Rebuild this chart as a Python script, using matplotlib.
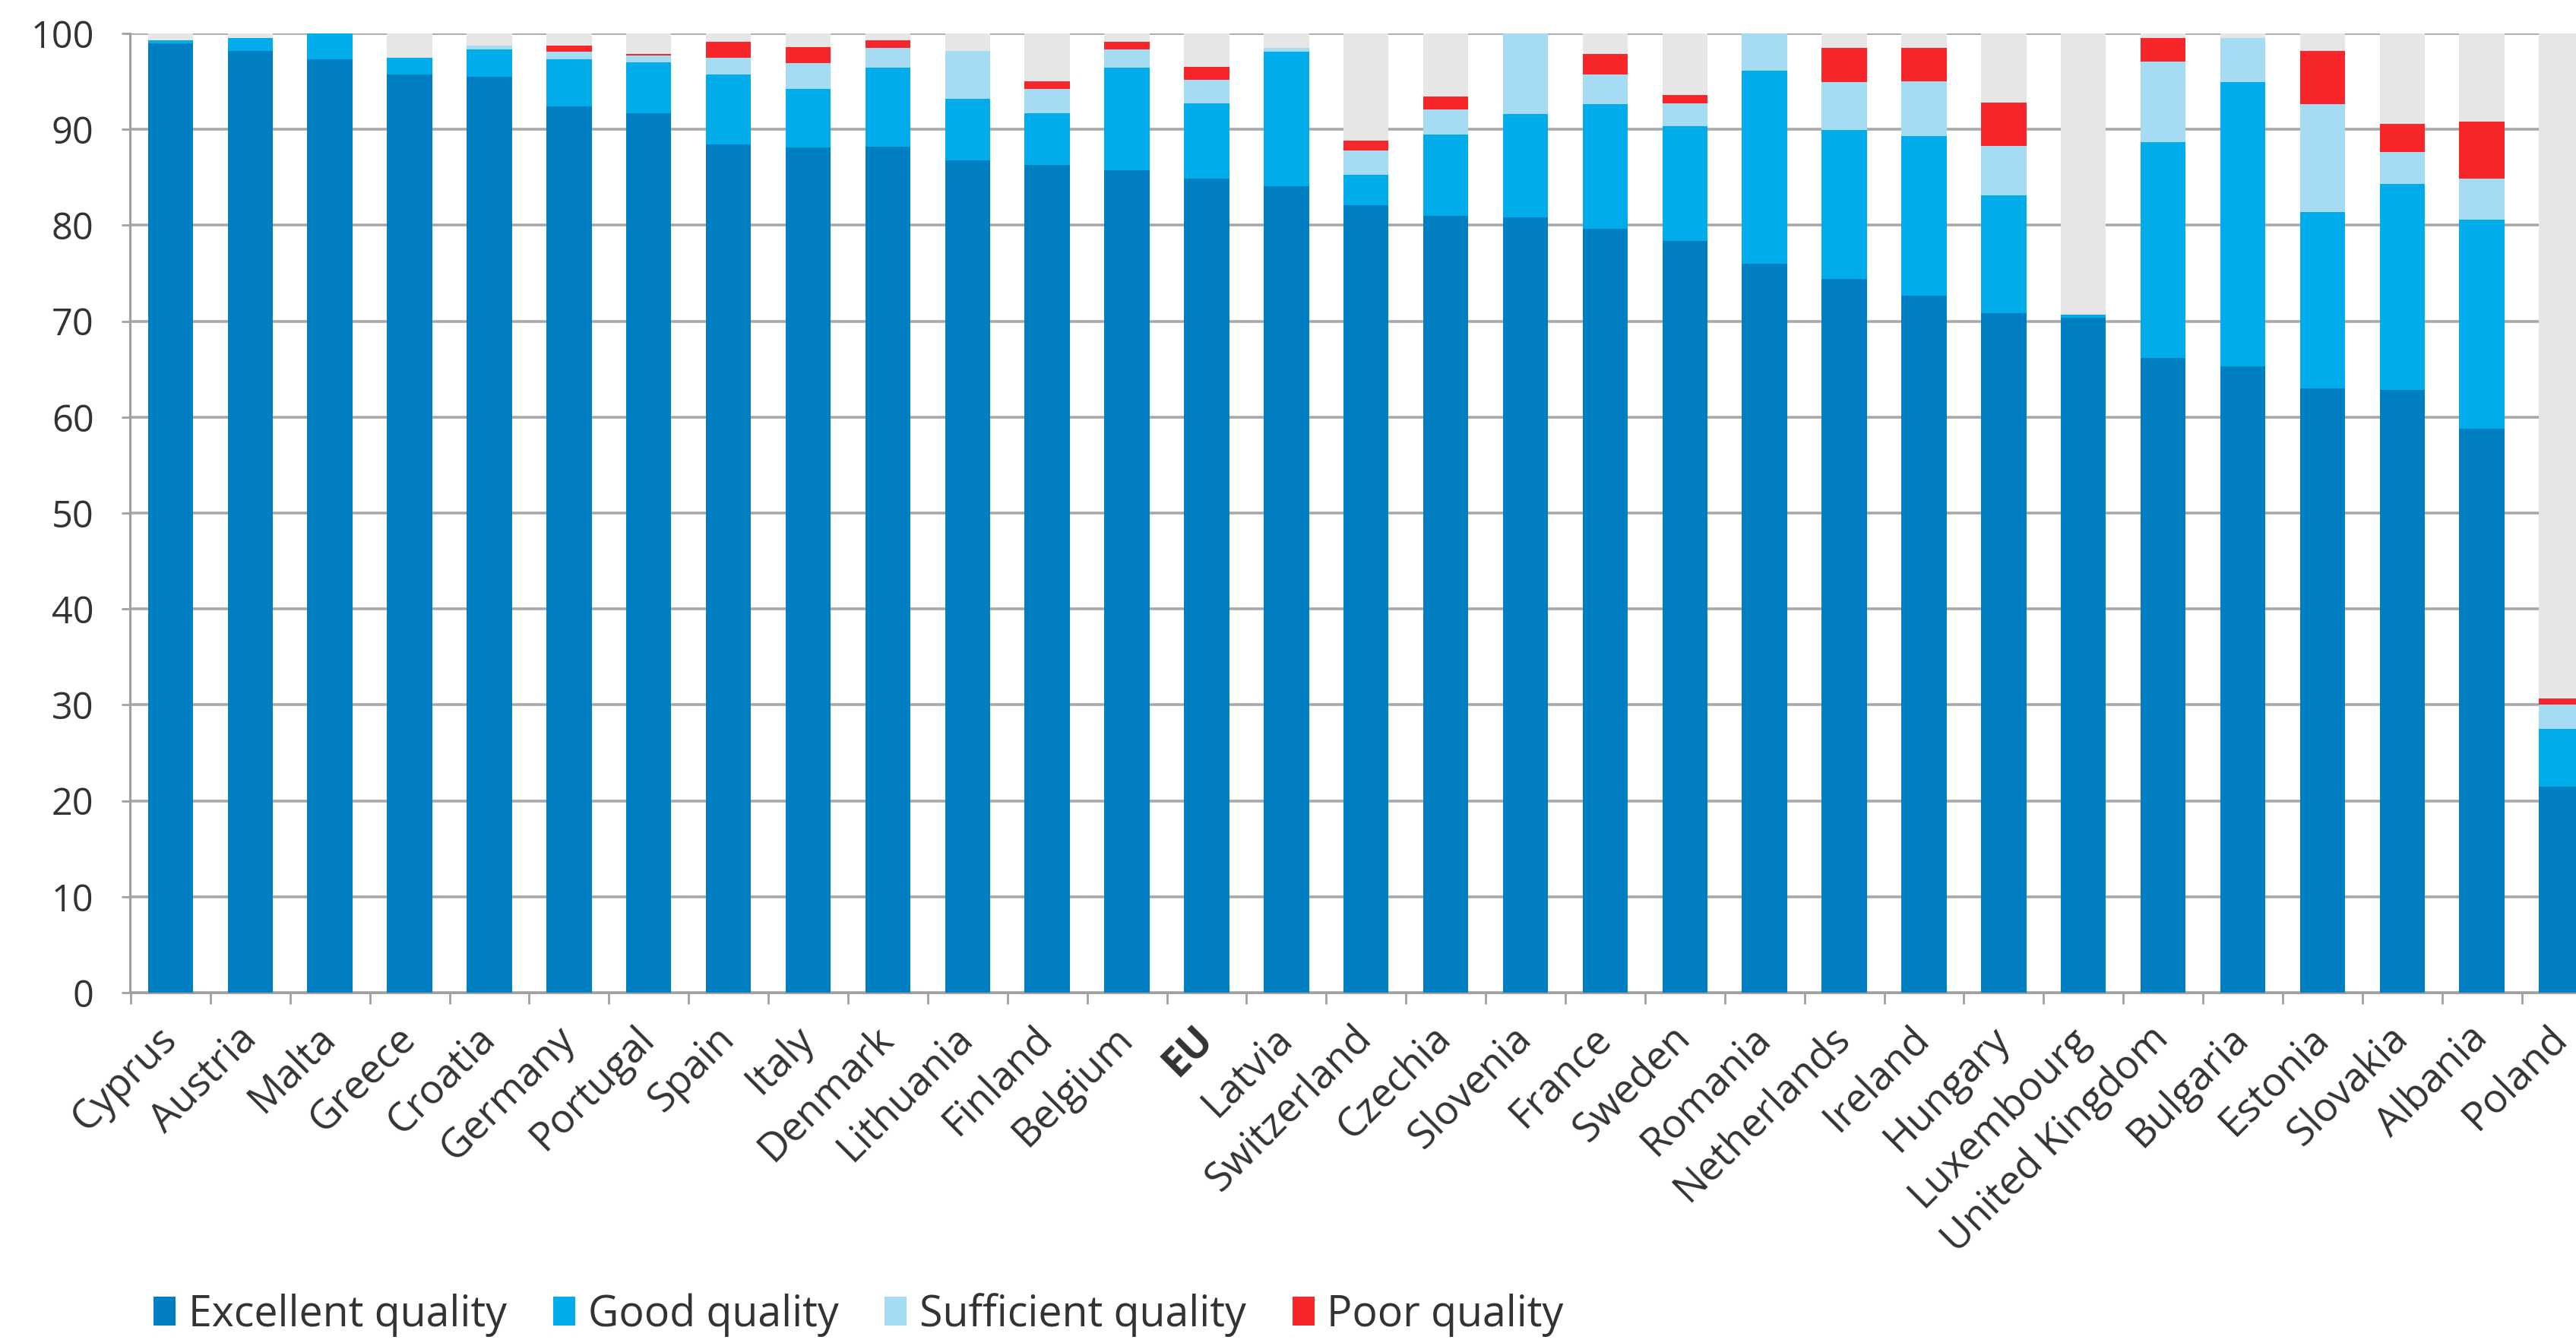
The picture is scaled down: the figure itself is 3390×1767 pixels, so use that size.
import numpy as np
import matplotlib
matplotlib.use("Agg")
import matplotlib.pyplot as plt
from matplotlib.patches import Patch

plt.rcParams['font.family'] = ['Open Sans', 'DejaVu Sans']

# Data (% of bathing waters)
countries = ["Cyprus", "Austria", "Malta", "Greece", "Croatia", "Germany", "Portugal",
             "Spain", "Italy", "Denmark", "Lithuania", "Finland", "Belgium", "EU",
             "Latvia", "Switzerland", "Czechia", "Slovenia", "France", "Sweden",
             "Romania", "Netherlands", "Ireland", "Hungary", "Luxembourg",
             "United Kingdom", "Bulgaria", "Estonia", "Slovakia", "Albania", "Poland"]
excellent = [99.0, 98.2, 97.3, 95.7, 95.5, 92.4, 91.7, 88.4, 88.1, 88.2, 86.8, 86.3,
             85.7, 84.9, 84.1, 82.1, 81.0, 80.8, 79.6, 78.4, 76.0, 74.4, 72.7, 70.8,
             70.4, 66.2, 65.3, 63.0, 62.8, 58.8, 21.5]
good = [0.3, 1.3, 2.7, 1.8, 2.8, 4.9, 5.3, 7.3, 6.1, 8.2, 6.4, 5.4, 10.7, 7.8, 14.0,
        3.2, 8.5, 10.8, 13.0, 11.9, 20.1, 15.5, 16.6, 12.3, 0.3, 22.5, 29.6, 18.4,
        21.5, 21.8, 6.0]
sufficient = [0.0, 0.0, 0.0, 0.0, 0.4, 0.8, 0.7, 1.8, 2.7, 2.1, 5.0, 2.5, 1.9, 2.5, 0.4,
              2.5, 2.6, 8.4, 3.1, 2.4, 3.9, 5.0, 5.7, 5.2, 0.0, 8.4, 4.6, 11.2, 3.3,
              4.3, 2.5]
poor = [0.0, 0.0, 0.0, 0.0, 0.0, 0.6, 0.2, 1.6, 1.7, 0.8, 0.0, 0.8, 0.8, 1.3, 0.0,
        1.0, 1.3, 0.0, 2.2, 0.9, 0.0, 3.6, 3.5, 4.5, 0.0, 2.4, 0.0, 5.6, 3.0, 5.9, 0.7]

series = [("Excellent quality", excellent, "#0080c3"),
          ("Good quality", good, "#00acea"),
          ("Sufficient quality", sufficient, "#a5dcf4"),
          ("Poor quality", poor, "#f7262b")]

x = np.arange(len(countries))
w = 0.567

fig = plt.figure(figsize=(33.91, 17.67), dpi=100)
ax = fig.add_axes([0.0504, 0.2609, 0.9496, 0.7142])

# remaining share (not classified) in grey
total = np.array(excellent) + np.array(good) + np.array(sufficient) + np.array(poor)
ax.bar(x, 100 - total, w, bottom=total, color="#e6e6e6", zorder=2)

bottom = np.zeros(len(x))
handles = []
for name, vals, col in series:
    ax.bar(x, vals, w, bottom=bottom, color=col, zorder=3)
    bottom += np.array(vals)
    handles.append(Patch(facecolor=col, label=name))

ax.set_xlim(-0.51, 30.19)
ax.set_ylim(0, 100)
ax.set_yticks(np.arange(0, 101, 10))
ax.yaxis.grid(True, color="#a8a8a8", linewidth=2.6)
ax.set_axisbelow(True)

for s in ["top", "right"]:
    ax.spines[s].set_visible(False)
for s in ["left", "bottom"]:
    ax.spines[s].set_color("#a0a0a0")
    ax.spines[s].set_linewidth(2.2)

ax.tick_params(axis="y", labelsize=35, labelcolor="#333333", color="#a0a0a0",
               length=8, width=2, pad=26)
ax.set_xticks(x)
ax.set_xticklabels(countries, rotation=45, ha="right", va="center",
                   rotation_mode="anchor", fontsize=38, color="#333333")
ax.tick_params(axis="x", length=0, pad=38)
ax.set_xticks(np.arange(-0.5, 30, 1), minor=True)
ax.tick_params(axis="x", which="minor", length=11, width=2, color="#a0a0a0")
for lab in ax.get_xticklabels():
    if lab.get_text() == "EU":
        lab.set_fontweight("bold")

fig.legend(handles=handles, loc="center left", bbox_to_anchor=(0.0515, 0.021),
           ncol=4, frameon=False, fontsize=40, handlelength=0.52, handleheight=0.68,
           handletextpad=0.3, columnspacing=1.1, borderpad=0, labelcolor="#333333")

fig.savefig("out.png", dpi=100)
